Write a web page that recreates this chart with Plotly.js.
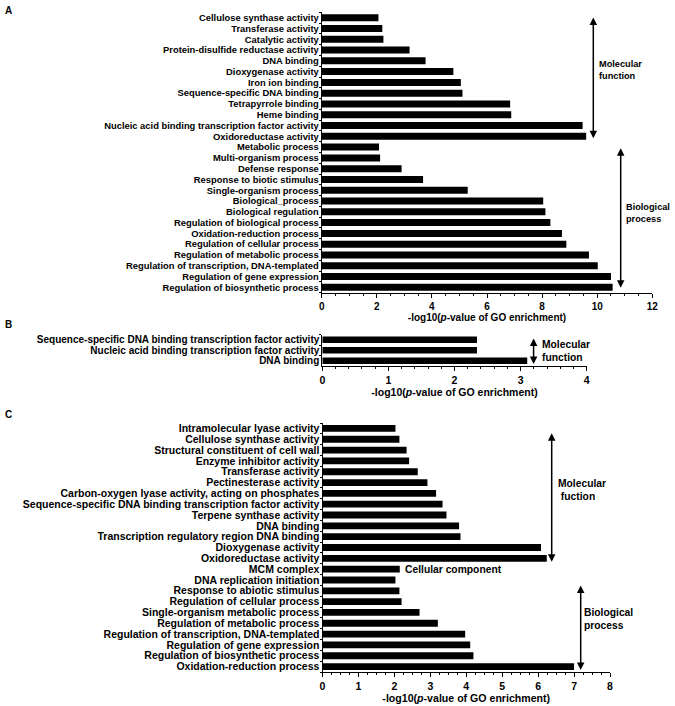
<!DOCTYPE html>
<html><head><meta charset="utf-8">
<script src="https://cdn.plot.ly/plotly-3.0.1.min.js"></script>
<style>html,body{margin:0;padding:0;background:#fff}</style>
</head><body><div id="chart" style="width:675px;height:706px"></div>
<script>
// Panel A
const catsA = ["Cellulose synthase activity","Transferase activity","Catalytic activity","Protein-disulfide reductase activity","DNA binding","Dioxygenase activity","Iron ion binding","Sequence-specific DNA binding","Tetrapyrrole binding","Heme binding","Nucleic acid binding transcription factor activity","Oxidoreductase activity","Metabolic process","Multi-organism process","Defense response","Response to biotic stimulus","Single-organism process","Biological_process","Biological regulation","Regulation of biological process","Oxidation-reduction process","Regulation of cellular process","Regulation of metabolic process","Regulation of transcription, DNA-templated","Regulation of gene expression","Regulation of biosynthetic process"];
const valsA = [2.06,2.2,2.24,3.19,3.77,4.78,5.05,5.11,6.84,6.88,9.47,9.6,2.08,2.12,2.9,3.68,5.3,8.04,8.12,8.3,8.72,8.88,9.7,10.02,10.5,10.56];
const ticksA = [0,2,4,6,8,10,12];
// Panel B
const catsB = ["Sequence-specific DNA binding transcription factor activity","Nucleic acid binding transcription factor activity","DNA binding"];
const valsB = [2.34,2.34,3.1];
const ticksB = [0,1,2,3,4];
// Panel C
const catsC = ["Intramolecular lyase activity","Cellulose synthase activity","Structural constituent of cell wall","Enzyme inhibitor activity","Transferase activity","Pectinesterase activity","Carbon-oxygen lyase activity, acting on phosphates","Sequence-specific DNA binding transcription factor activity","Terpene synthase activity","DNA binding","Transcription regulatory region DNA binding","Dioxygenase activity","Oxidoreductase activity","MCM complex","DNA replication initiation","Response to abiotic stimulus","Regulation of cellular process","Single-organism metabolic process","Regulation of metabolic process","Regulation of transcription, DNA-templated","Regulation of gene expression","Regulation of biosynthetic process","Oxidation-reduction process"];
const valsC = [2.03,2.14,2.34,2.41,2.65,2.92,3.16,3.34,3.45,3.8,3.84,6.08,6.24,2.15,2.03,2.14,2.2,2.7,3.21,3.97,4.11,4.2,7.0];
const ticksC = [0,1,2,3,4,5,6,7,8];

const W = 675, H = 706;
const px = v => v / W;
const py = v => 1 - v / H;
const FAM = "Liberation Sans, Arial, sans-serif";

function bar(cats, vals, xa, ya, w) {
  return {type:'bar', orientation:'h', x: vals, y: cats, xaxis: xa, yaxis: ya,
    width: w, marker:{color:'#000', line:{width:0}}, hoverinfo:'none'};
}
function xax(dom, anchor, range, ticks, minor, fs, tfs) {
  return {domain: dom, anchor: anchor, range: range, tickmode:'array', tickvals: ticks, ticktext: ticks.map(String),
    showline:true, linecolor:'#000', linewidth:1, ticks:'outside', ticklen:4, tickwidth:1, tickcolor:'#000',
    minor:{dtick:minor, ticks:'outside', ticklen:2, tickwidth:1, tickcolor:'#000', showgrid:false},
    showgrid:false, zeroline:false, fixedrange:true,
    tickfont:{family:FAM, size:fs, color:'#000', weight:'bold'},
    title:{text:'-log10(<i>p</i>-value of GO enrichment)', standoff:2, font:{family:FAM, size:tfs, color:'#000', weight:'bold'}}};
}
function yax(dom, anchor, cats, fs) {
  const n = cats.length;
  return {domain: dom, anchor: anchor, type:'category', range:[n-0.5,-0.5],
    tickmode:'array', tickvals: cats, ticktext: cats,
    showline:true, linecolor:'#000', linewidth:1, ticks:'outside', tickson:'boundaries', ticklen:2, tickwidth:1, tickcolor:'#000',
    showgrid:false, zeroline:false, fixedrange:true,
    tickfont:{family:FAM, size:fs, color:'#000', weight:'bold'}};
}
function dblArrow(xp, ytop, ybot) {
  return {xref:'paper', yref:'paper', x:px(xp), y:py(ybot), ax:0, ay:-(ybot-ytop), axref:'pixel', ayref:'pixel',
    text:'', showarrow:true, arrowside:'end+start', arrowhead:2, arrowsize:1, arrowwidth:1.5, arrowcolor:'#000'};
}
function label(xp, yp, txt, fs) {
  return {xref:'paper', yref:'paper', x:px(xp), y:py(yp), xanchor:'left', yanchor:'middle', align:'left',
    text:txt, showarrow:false, font:{family:FAM, size:fs, color:'#000', weight:'bold'}};
}

const data = [
  bar(catsA, valsA, 'x', 'y', 0.65),
  bar(catsB, valsB, 'x2', 'y2', 0.62),
  bar(catsC, valsC, 'x3', 'y3', 0.63)
];

const layout = {
  width: W, height: H, margin:{l:0,r:0,t:0,b:0}, showlegend:false,
  paper_bgcolor:'#fff', plot_bgcolor:'#fff', bargap:0.35,
  xaxis: xax([px(321.7), px(652.3)], 'y', [0,12], ticksA, 0.5, 10, 10),
  yaxis: yax([py(292.7), py(12.3)], 'x', catsA, 9.4),
  xaxis2: xax([px(322.3), px(586.7)], 'y2', [0,4], ticksB, 0.2, 10.5, 10.5),
  yaxis2: yax([py(366), py(334.5)], 'x2', catsB, 10),
  xaxis3: xax([px(322.5), px(610)], 'y3', [0,8], ticksC, 0.25, 10.5, 10.6),
  yaxis3: yax([py(672), py(423)], 'x3', catsC, 10.5),
  annotations: [
    label(3, 11, 'A', 10), label(3, 324, 'B', 10), label(3, 414, 'C', 10),
    dblArrow(593.3, 16, 138.3), label(597, 70, 'Molecular<br>function', 9.2),
    dblArrow(620.7, 146.7, 287.7), label(624, 213, 'Biological<br>process', 9.2),
    dblArrow(533.6, 337, 364), label(540, 351, 'Molecular<br>function', 10.3),
    dblArrow(551.7, 431.7, 561.7), label(556, 490, 'Molecular<br> fuction', 10.3),
    label(403, 569, 'Cellular component', 10.3),
    dblArrow(580.7, 584, 670), label(582, 619, 'Biological<br>process', 10.3)
  ]
};
Plotly.newPlot('chart', data, layout, {displayModeBar:false, staticPlot:true});
</script></body></html>
